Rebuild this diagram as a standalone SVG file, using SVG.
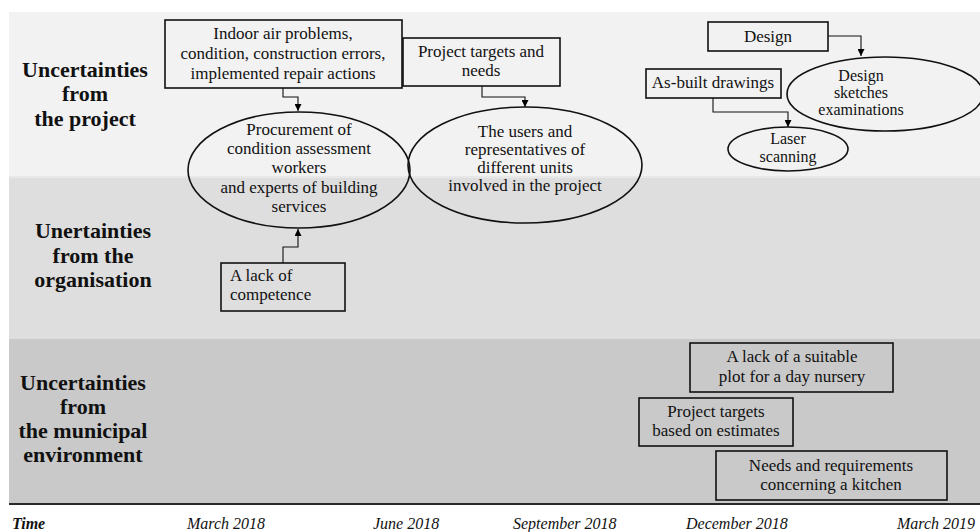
<svg xmlns="http://www.w3.org/2000/svg" width="980" height="532" viewBox="0 0 980 532">
<defs>
<marker id="arr" viewBox="0 0 10 10" refX="10" refY="5" markerWidth="7" markerHeight="7" orient="auto" markerUnits="userSpaceOnUse">
<path d="M0,0 L10,5 L0,10 z" fill="#000"/>
</marker>
<style>
.box{fill:none;stroke:#111;stroke-width:1.6}
.ell{fill:none;stroke:#111;stroke-width:1.6}
.t{font-family:"Liberation Serif","Times New Roman",serif;font-size:17px;fill:#111;text-anchor:middle}
.ts{font-family:"Liberation Serif","Times New Roman",serif;font-size:16px;fill:#111;text-anchor:middle}
.tl{font-family:"Liberation Serif","Times New Roman",serif;font-size:17px;fill:#111}
.h{font-family:"Liberation Serif","Times New Roman",serif;font-size:22px;font-weight:bold;fill:#111;text-anchor:middle}
.tm{font-family:"Liberation Serif","Times New Roman",serif;font-size:16px;font-style:italic;fill:#111}
.con{fill:none;stroke:#111;stroke-width:1.1;marker-end:url(#arr)}
</style>
</defs>
<rect width="980" height="532" fill="#fff"/>
<g id="bands">
<rect x="9" y="12" width="971" height="164" fill="#f2f2f2"/>
<rect x="9" y="176" width="971" height="163" fill="#dedede"/>
<rect x="9" y="176" width="971" height="2" fill="#e8e8e8"/>
<rect x="9" y="339" width="971" height="165" fill="#c9c9c9"/>
<line x1="9" y1="504" x2="980" y2="504" stroke="#2a2a2a" stroke-width="2.2"/>
</g>
<g id="row-labels">
<text class="h" x="85" y="77">Uncertainties</text>
<text class="h" x="85" y="101">from</text>
<text class="h" x="85" y="126">the project</text>
<text class="h" x="93" y="238">Unertainties</text>
<text class="h" x="93" y="263">from the</text>
<text class="h" x="93" y="287">organisation</text>
<text class="h" x="83" y="390">Uncertainties</text>
<text class="h" x="83" y="414">from</text>
<text class="h" x="83" y="438">the municipal</text>
<text class="h" x="83" y="462">environment</text>
</g>
<g id="connectors">
<path class="con" d="M283,88 V97 H298 V111"/>
<path class="con" d="M283,263 V247 H298 V229"/>
<path class="con" d="M482,86 V97 H525 V107"/>
<path class="con" d="M828,36 H861 V56"/>
<path class="con" d="M713,98 V112 H788 V127"/>
</g>
<g id="n-indoor">
<rect class="box" x="165" y="20" width="237" height="68"/>
<text class="t" x="283" y="39">Indoor air problems,</text>
<text class="t" x="283" y="59">condition, construction errors,</text>
<text class="t" x="283" y="79">implemented repair actions</text>
</g>
<g id="n-procurement">
<ellipse class="ell" cx="299" cy="170" rx="111" ry="58"/>
<text class="t" x="299" y="135">Procurement of</text>
<text class="t" x="299" y="154">condition assessment</text>
<text class="t" x="299" y="173">workers</text>
<text class="t" x="299" y="193">and experts of building</text>
<text class="t" x="299" y="212">services</text>
</g>
<g id="n-competence">
<rect class="box" x="221" y="263" width="124" height="48"/>
<text class="tl" x="230" y="281">A lack of</text>
<text class="tl" x="230" y="300">competence</text>
</g>
<g id="n-targets">
<rect class="box" x="403" y="38" width="157" height="48"/>
<text class="t" x="481" y="57">Project targets and</text>
<text class="t" x="481" y="76">needs</text>
</g>
<g id="n-users">
<ellipse class="ell" cx="525" cy="165" rx="117" ry="58"/>
<text class="t" x="525" y="137">The users and</text>
<text class="t" x="525" y="155">representatives of</text>
<text class="t" x="525" y="173">different units</text>
<text class="t" x="525" y="191">involved in the project</text>
</g>
<g id="n-design">
<rect class="box" x="708" y="22" width="120" height="29"/>
<text class="t" x="768" y="42">Design</text>
</g>
<g id="n-sketches">
<ellipse class="ell" cx="885" cy="94" rx="98" ry="37"/>
<text class="ts" x="861" y="81">Design</text>
<text class="ts" x="861" y="98">sketches</text>
<text class="ts" x="861" y="115">examinations</text>
</g>
<g id="n-asbuilt">
<rect class="box" x="646" y="69" width="135" height="29"/>
<text class="t" x="713" y="88">As-built drawings</text>
</g>
<g id="n-laser">
<ellipse class="ell" cx="788" cy="149" rx="60" ry="22"/>
<text class="ts" x="788" y="144">Laser</text>
<text class="ts" x="788" y="162">scanning</text>
</g>
<g id="n-plot">
<rect class="box" x="690" y="343" width="203" height="49"/>
<text class="t" x="792" y="362">A lack of a suitable</text>
<text class="t" x="792" y="382">plot for a day nursery</text>
</g>
<g id="n-estimates">
<rect class="box" x="639" y="398" width="154" height="48"/>
<text class="t" x="716" y="417">Project targets</text>
<text class="t" x="716" y="436">based on estimates</text>
</g>
<g id="n-kitchen">
<rect class="box" x="716" y="451" width="231" height="49"/>
<text class="t" x="831" y="471">Needs and requirements</text>
<text class="t" x="831" y="490">concerning a kitchen</text>
</g>
<g id="timeline">
<text class="tm" x="12" y="529" font-weight="bold">Time</text>
<text class="tm" x="187" y="529">March 2018</text>
<text class="tm" x="373" y="529">June 2018</text>
<text class="tm" x="513" y="529">September 2018</text>
<text class="tm" x="686" y="529">December 2018</text>
<text class="tm" x="975" y="529" text-anchor="end">March 2019</text>
</g>
</svg>
